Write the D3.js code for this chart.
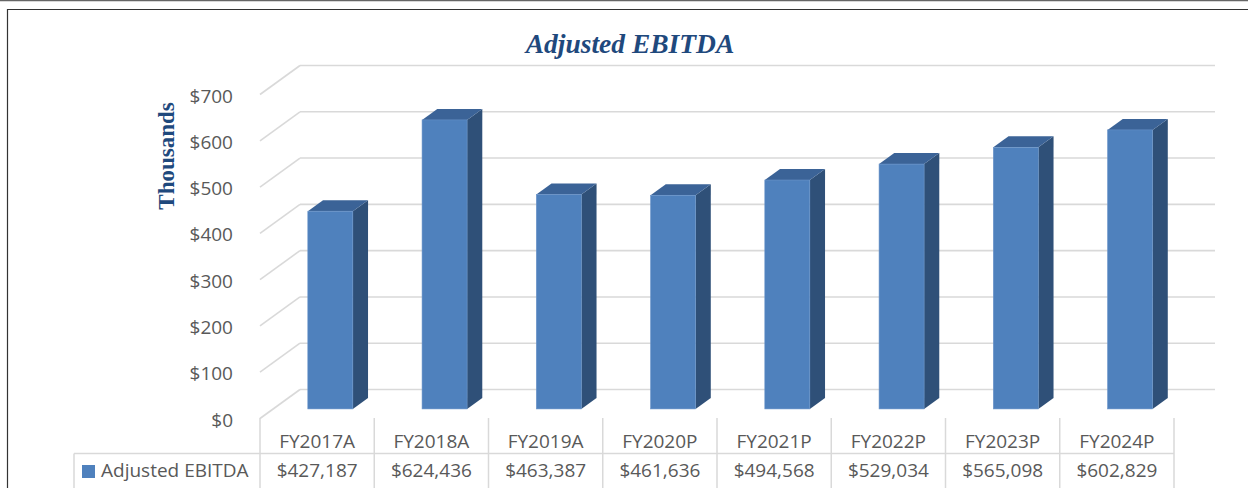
<!DOCTYPE html>
<html><head><meta charset="utf-8">
<script src="https://cdn.jsdelivr.net/npm/d3@7"></script>
<style>html,body{margin:0;padding:0;background:#fff;overflow:hidden}</style>
</head><body>
<svg id="c" width="1248" height="488"></svg>
<script>
const categories = ["FY2017A","FY2018A","FY2019A","FY2020P","FY2021P","FY2022P","FY2023P","FY2024P"];
const seriesName = "Adjusted EBITDA";
const values = [427187, 624436, 463387, 461636, 494568, 529034, 565098, 602829];
const yTicks = [0,100,200,300,400,500,600,700];
const titleText = "Adjusted EBITDA";
const yAxisTitle = "Thousands";

const svg = d3.select("#c");
const FONT = "'Open Sans', sans-serif";
const TXT = "#595959";
const GRID = "#d9d9d9";

// frame
svg.append("line").attr("x1",0).attr("x2",1248).attr("y1",0.5).attr("y2",0.5).attr("stroke","#666").attr("stroke-width",1.5);
svg.append("path").attr("d","M7.5,500 V9.5 H1260").attr("fill","none").attr("stroke","#333").attr("stroke-width",1.2);

// oblique 3D geometry
const depthX = 40, depthY = -29;
const x = d3.scaleBand().domain(categories).range([260, 1174]);
const y = d3.scaleLinear().domain([0, 700]).range([418.5, 94.5]);
const f0 = 0.33, f1 = 0.71, barFrac = 0.394;

// gridlines: side wall + back wall
const g = svg.append("g");
yTicks.forEach(v => {
  const yf = y(v), yb = yf + depthY;
  g.append("line").attr("x1",260).attr("y1",yf).attr("x2",260+depthX).attr("y2",yb)
    .attr("stroke",GRID).attr("stroke-width",1.6);
  g.append("line").attr("x1",260+depthX).attr("y1",yb).attr("x2",x.range()[1]+depthX+1).attr("y2",yb)
    .attr("stroke",GRID).attr("stroke-width",1.6);
});

// y tick labels
svg.append("g").selectAll("text").data(yTicks).join("text")
  .attr("x",233).attr("y",d=>y(d)+8).attr("text-anchor","end")
  .attr("font-family",FONT).attr("font-size",19).attr("fill",TXT)
  .text(d=>"$"+d);

// bars
const bw = x.bandwidth()*barFrac;
const dxb = depthX*(f1-f0), dyb = depthY*(f1-f0);
const bars = svg.append("g");
values.forEach((v,i) => {
  const cx = x(categories[i]) + x.bandwidth()/2 + depthX*f0;
  const xl = cx - bw/2, xr = cx + bw/2;
  const yBase = y(0) + depthY*f0;
  const yTop = y(v/1000) + depthY*f0;
  bars.append("path").attr("d",`M${xr},${yTop} L${xr+dxb},${yTop+dyb} L${xr+dxb},${yBase+dyb} L${xr},${yBase} Z`)
    .attr("fill","#2f5078");
  bars.append("path").attr("d",`M${xl},${yTop} L${xl+dxb},${yTop+dyb} L${xr+dxb},${yTop+dyb} L${xr},${yTop} Z`)
    .attr("fill","#3b6397");
  bars.append("rect").attr("x",xl).attr("y",yTop).attr("width",bw).attr("height",yBase-yTop)
    .attr("fill","#4f81bd").attr("stroke","#6a94c9").attr("stroke-width",0.6);
});

// data table
const tbl = svg.append("g");
const rowY = 453.5;
d3.range(categories.length+1).forEach(i=>{
  const xx = x.range()[0] + i*x.bandwidth();
  tbl.append("line").attr("x1",xx).attr("x2",xx).attr("y1",418).attr("y2",490).attr("stroke",GRID).attr("stroke-width",1.5);
});
tbl.append("line").attr("x1",74).attr("x2",1174).attr("y1",rowY).attr("y2",rowY).attr("stroke",GRID).attr("stroke-width",1.5);
tbl.append("line").attr("x1",74).attr("x2",74).attr("y1",rowY).attr("y2",490).attr("stroke",GRID).attr("stroke-width",1.5);
tbl.selectAll("text.cat").data(categories).join("text").attr("class","cat")
  .attr("x",d=>x(d)+x.bandwidth()/2).attr("y",448).attr("text-anchor","middle")
  .attr("font-family",FONT).attr("font-size",19).attr("fill",TXT).text(d=>d);
const fmt = d3.format("$,");
tbl.selectAll("text.val").data(values).join("text").attr("class","val")
  .attr("x",(d,i)=>x(categories[i])+x.bandwidth()/2).attr("y",477).attr("text-anchor","middle")
  .attr("font-family",FONT).attr("font-size",19).attr("fill",TXT).text(d=>fmt(d));
tbl.append("rect").attr("x",82).attr("y",465).attr("width",13).attr("height",13).attr("fill","#4f81bd");
tbl.append("text").attr("x",101).attr("y",477).attr("font-family",FONT).attr("font-size",19).attr("fill",TXT).text(seriesName);

// titles
svg.append("text").attr("x",630).attr("y",53).attr("text-anchor","middle")
  .attr("font-family","'Liberation Serif', 'Times New Roman', serif").attr("font-weight","bold").attr("font-style","italic")
  .attr("font-size",27.5).attr("fill","#1f497d").text(titleText);
svg.append("text").attr("transform","translate(174,156) rotate(-90)").attr("text-anchor","middle")
  .attr("font-family","'Liberation Serif', 'Times New Roman', serif").attr("font-weight","bold")
  .attr("font-size",23).attr("fill","#1f497d").text(yAxisTitle);
</script>
</body></html>
